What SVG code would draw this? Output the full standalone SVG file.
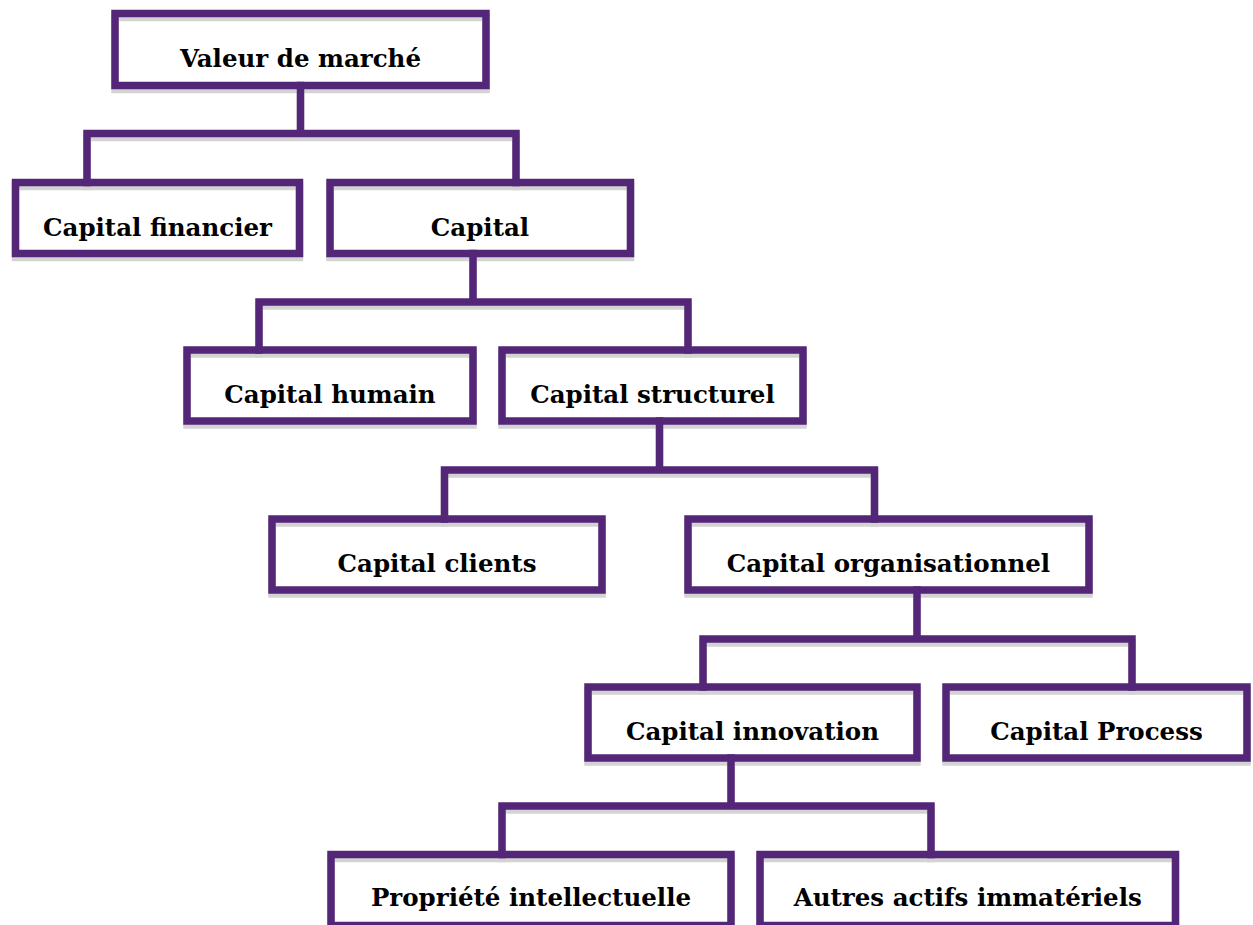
<svg xmlns="http://www.w3.org/2000/svg" width="1253" height="925" viewBox="0 0 1253 925">
  <style>
    .box { fill: none; stroke: #542678; stroke-width: 7.5; }
    .sh { fill: none; stroke: #d3d3d3; stroke-width: 7.5; }
    .conn { fill: none; stroke: #542678; stroke-width: 7.5; stroke-linecap: square; }
    .consh { fill: none; stroke: #d3d3d3; stroke-width: 7.5; stroke-linecap: square; }
    text { font-family: "DejaVu Serif", "Liberation Serif", serif; font-weight: bold; font-size: 24.5px; fill: #000; text-anchor: middle; }
  </style>
  <rect width="1253" height="925" fill="#fff"/>

  <g id="shadows" transform="translate(0,4)">
    <path class="consh" d="M300.5 85.5 V133.5 M87 182.5 V133.5 H516 V182.5 M473 253.5 V302 M259 350 V302 H688 V350 M659.5 421 V470 M444.5 519 V470 H874.5 V519 M917 590 V639 M703 687 V639 H1132 V687 M731 758 V806 M502 854.5 V806 H931 V854.5"/>
    <rect class="sh" x="115" y="13.5" width="371" height="72"/>
    <rect class="sh" x="15.5" y="182.5" width="284" height="71"/>
    <rect class="sh" x="330" y="182.5" width="300.5" height="71"/>
    <rect class="sh" x="187" y="350" width="286" height="71"/>
    <rect class="sh" x="502" y="350" width="301" height="71"/>
    <rect class="sh" x="272" y="519" width="330" height="71"/>
    <rect class="sh" x="688" y="519" width="401" height="71"/>
    <rect class="sh" x="588" y="687" width="329" height="71"/>
    <rect class="sh" x="946" y="687" width="301" height="71"/>
    <rect class="sh" x="331" y="854.5" width="400" height="71"/>
    <rect class="sh" x="760" y="854.5" width="415.5" height="71"/>
  </g>

  <g id="connectors">
    <path class="conn" d="M300.5 85.5 V133.5 M87 182.5 V133.5 H516 V182.5"/>
    <path class="conn" d="M473 253.5 V302 M259 350 V302 H688 V350"/>
    <path class="conn" d="M659.5 421 V470 M444.5 519 V470 H874.5 V519"/>
    <path class="conn" d="M917 590 V639 M703 687 V639 H1132 V687"/>
    <path class="conn" d="M731 758 V806 M502 854.5 V806 H931 V854.5"/>
  </g>

  <g id="valeur"><rect class="box" x="115" y="13.5" width="371" height="72"/><text x="300.5" y="67">Valeur de marché</text></g>
  <g id="financier"><rect class="box" x="15.5" y="182.5" width="284" height="71"/><text x="157.5" y="236">Capital financier</text></g>
  <g id="capital"><rect class="box" x="330" y="182.5" width="300.5" height="71"/><text x="480" y="236">Capital</text></g>
  <g id="humain"><rect class="box" x="187" y="350" width="286" height="71"/><text x="330" y="403">Capital humain</text></g>
  <g id="structurel"><rect class="box" x="502" y="350" width="301" height="71"/><text x="652.5" y="403">Capital structurel</text></g>
  <g id="clients"><rect class="box" x="272" y="519" width="330" height="71"/><text x="437" y="572">Capital clients</text></g>
  <g id="organisationnel"><rect class="box" x="688" y="519" width="401" height="71"/><text x="888.5" y="572">Capital organisationnel</text></g>
  <g id="innovation"><rect class="box" x="588" y="687" width="329" height="71"/><text x="752.5" y="740">Capital innovation</text></g>
  <g id="process"><rect class="box" x="946" y="687" width="301" height="71"/><text x="1096.5" y="740">Capital Process</text></g>
  <g id="propriete"><rect class="box" x="331" y="854.5" width="400" height="71"/><text x="531" y="906">Propriété intellectuelle</text></g>
  <g id="autres"><rect class="box" x="760" y="854.5" width="415.5" height="71"/><text x="967.75" y="906">Autres actifs immatériels</text></g>
</svg>
